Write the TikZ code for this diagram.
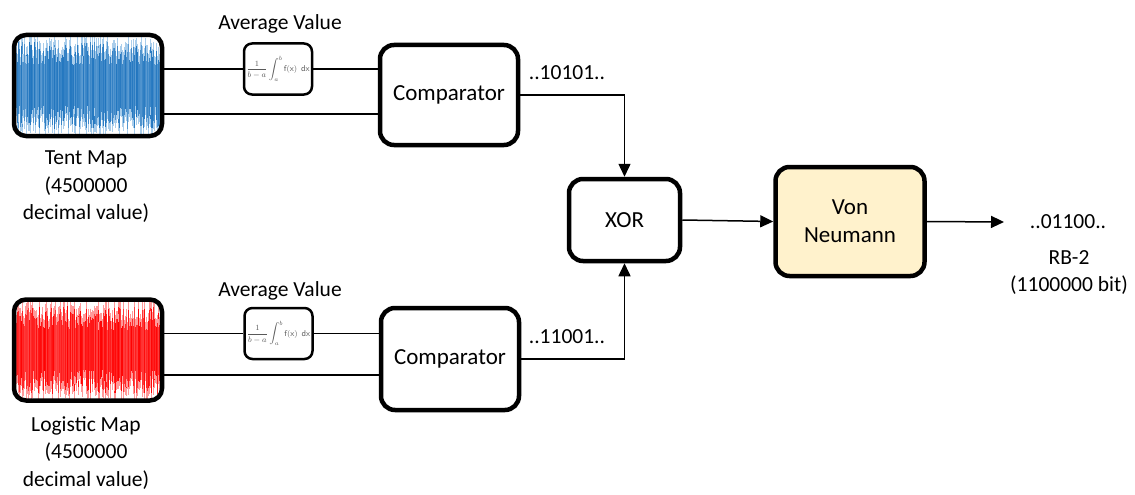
\documentclass[tikz,border=0pt]{standalone}
\usepackage{fontspec}
\setmainfont{Carlito}
\usetikzlibrary{arrows.meta,calc}
\definecolor{tentblue}{HTML}{1F74BE}
\definecolor{tentlight}{HTML}{A9CDEB}
\definecolor{logred}{HTML}{FF0000}
\definecolor{loglight}{HTML}{FF9A9A}
\definecolor{vnfill}{HTML}{FFF2CC}
\newcommand{\mywave}[4]{%
  \foreach \i in {0,...,195}{%
    \pgfmathsetmacro{\xx}{-78+\i*0.8}%
    \pgfmathsetmacro{\ya}{#3+8+rnd*24}%
    \pgfmathsetmacro{\yb}{#4-8-rnd*24}%
    \pgfmathtruncatemacro{\pc}{55+rnd*45}%
    \draw[#2,line width=0.9pt] (\xx,\ya-8) -- (\xx,\yb+8);
    \draw[#1!\pc!#2,line width=0.9pt] (\xx,\ya) -- (\xx,\yb);
  }}
\tikzset{
  mapbox/.style={draw, line width=4.5pt, rounded corners=12pt, minimum width=148pt, minimum height=101pt, inner sep=0pt},
  avgbox/.style={draw, line width=2.5pt, fill=white, rounded corners=8pt, minimum width=68pt, minimum height=51pt, inner sep=0pt},
  blockbox/.style={draw, line width=4.5pt, fill=white, rounded corners=14pt, inner sep=0pt, align=center, font=\fontsize{23}{28}\selectfont},
  lbl/.style={align=center, inner sep=0pt, font=\fontsize{21.5}{27.5}\selectfont},
  conn/.style={line width=1.5pt},
  arr/.style={line width=1.5pt, -{Triangle[length=13pt,width=12pt]}},
  formula/.style={inner sep=0pt, text=black!65, font=\fontsize{8.5}{10}\selectfont}
}
\begin{document}
\begin{tikzpicture}[x=1pt,y=-1pt]
\useasboundingbox (0,0) rectangle (1135,495);
\pgfmathsetseed{17}
% map boxes
\node[mapbox, path picture={\mywave{tentblue}{tentlight}{-52}{52}}] (tent) at (88,85.5) {};
\node[mapbox, path picture={\mywave{logred}{loglight}{-52}{52}}] (logi) at (88,350) {};
\node[lbl] (tentlbl) at (86,187) {Tent Map\\(4500000\\decimal value)};
\node[lbl] (logilbl) at (86,453) {Logistic Map\\(4500000\\decimal value)};
% average boxes
\node[avgbox] (avg1) at (278,69) {};
\node[formula] (f1) at (278,69) {$\displaystyle\frac{1}{b-a}\int_a^b \mathsf{f(x)}\;\,\mathsf{dx}$};
\node[avgbox] (avg2) at (278.5,333.5) {};
\node[formula] (f2) at (278.5,333.5) {$\displaystyle\frac{1}{b-a}\int_a^b \mathsf{f(x)}\;\,\mathsf{dx}$};
\node[lbl] (avl1) at (280,24) {Average Value};
\node[lbl] (avl2) at (280,291) {Average Value};
% comparators
\node[blockbox, minimum width=138pt, minimum height=100pt] (comp1) at (449,95) {Comparator};
\node[blockbox, minimum width=138pt, minimum height=102pt] (comp2) at (450,359) {Comparator};
% xor and von neumann
\node[blockbox, minimum width=111pt, minimum height=82pt] (xor) at (624.5,220) {XOR};
\node[blockbox, fill=vnfill, minimum width=149pt, minimum height=109pt] (vn) at (850,221.5) {Von\\Neumann};
% connectors top
\draw[conn] (avg1.west -| tent.east) -- (avg1.west);
\draw[conn] (avg1.east) -- (avg1.east -| comp1.west);
\draw[conn] ([yshift=-28.5pt]tent.east) -- ([yshift=-28.5pt]tent.east -| comp1.west);
% connectors bottom
\draw[conn] (avg2.west -| logi.east) -- (avg2.west);
\draw[conn] (avg2.east) -- (avg2.east -| comp2.west);
\draw[conn] ([yshift=-25pt]logi.east) -- ([yshift=-25pt]logi.east -| comp2.west);
% to xor
\draw[arr] (comp1.east) -| (xor.north);
\draw[arr] (comp2.east) -| (xor.south);
\draw[arr] (xor.east) -- (vn.west);
\coordinate (outend) at (1004,222);
\draw[arr] (vn.east) -- (outend);
% bit labels
\node[lbl] (b1) at (567,73) {..10101..};
\node[lbl] (b2) at (567,337) {..11001..};
\node[lbl] (b3) at (1068,222) {..01100..};
\node[lbl] (rb) at (1069,272.5) {RB-2\\(1100000 bit)};
\end{tikzpicture}
\end{document}
